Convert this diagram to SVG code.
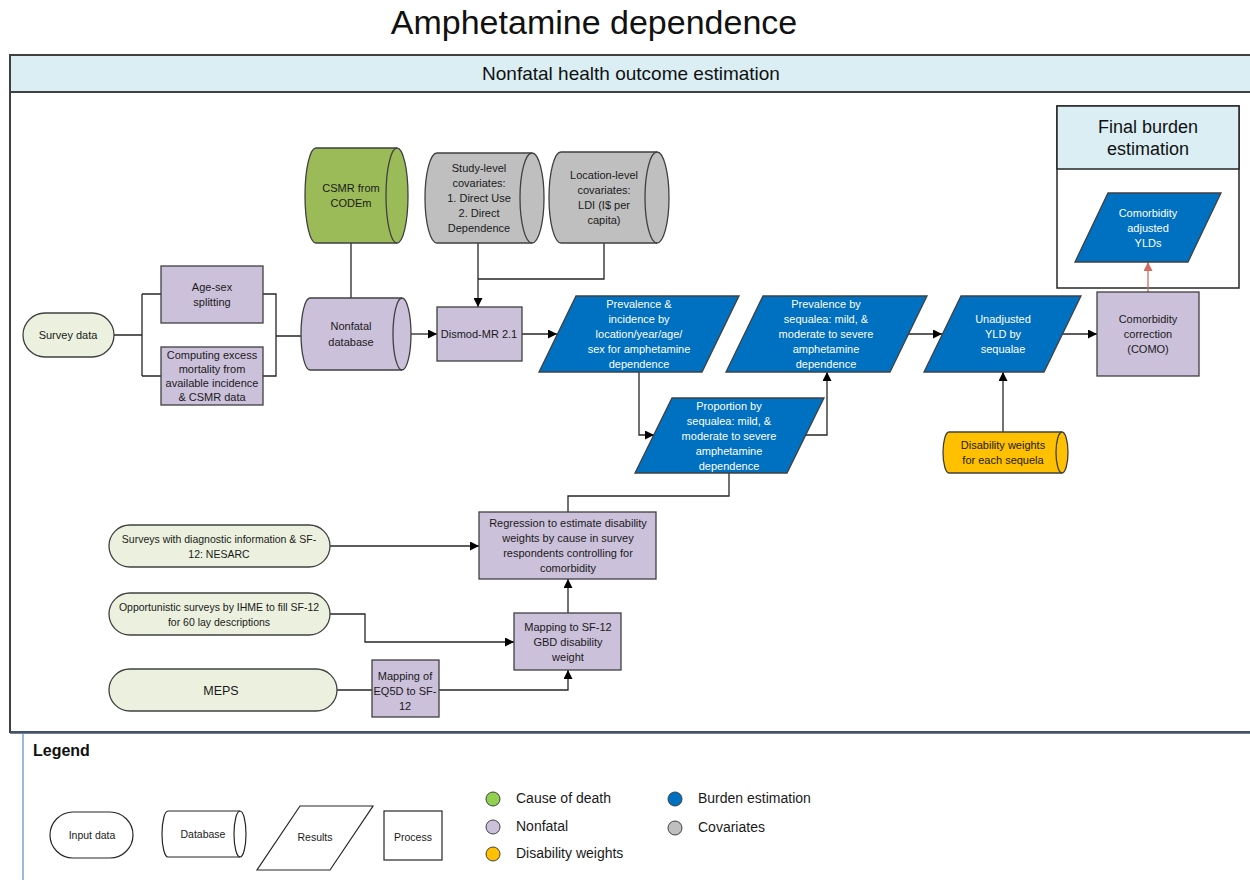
<svg xmlns="http://www.w3.org/2000/svg" width="1250" height="880" viewBox="0 0 1250 880">
  <defs>
    <marker id="arrow" viewBox="0 0 10 10" refX="10" refY="5" markerUnits="userSpaceOnUse" markerWidth="10" markerHeight="9" orient="auto">
      <path d="M0,0 L10,5 L0,10 z" fill="#000"/>
    </marker>
    <marker id="arrowRed" viewBox="0 0 10 10" refX="10" refY="5" markerUnits="userSpaceOnUse" markerWidth="10" markerHeight="9" orient="auto">
      <path d="M0,0 L10,5 L0,10 z" fill="#D46A62"/>
    </marker>
    <style>
      text { font-family: "Liberation Sans", Arial, sans-serif; }
      .t { font-size: 11px; fill: #1a1a1a; text-anchor: middle; }
      .tw { font-size: 11px; fill: #ffffff; text-anchor: middle; }
      .lg { font-size: 14px; fill: #1a1a1a; }
      .lgs { font-size: 10.5px; fill: #1a1a1a; text-anchor: middle; }
      .input { fill: #EBF1DE; stroke: #404040; stroke-width: 1.3; }
      .nonfatal { fill: #CCC1DA; stroke: #404040; stroke-width: 1.3; }
      .result { fill: #0070C0; stroke: #404040; stroke-width: 1.3; }
      .cov { fill: #BFBFBF; stroke: #404040; stroke-width: 1.3; }
      .cod { fill: #9BBB59; stroke: #404040; stroke-width: 1.3; }
      .dw { fill: #FFC000; stroke: #404040; stroke-width: 1.3; }
      .plain { fill: #ffffff; stroke: #262626; stroke-width: 1.2; }
      .inner { fill: none; stroke: #404040; stroke-width: 1.3; }
      .conn path { fill: none; stroke: #262626; stroke-width: 1.3; }
      .conn .arr { marker-end: url(#arrow); }
    </style>
  </defs>

  <rect width="1250" height="880" fill="#ffffff"/>

  <!-- title -->
  <text x="594" y="34" font-size="34" text-anchor="middle" fill="#111">Amphetamine dependence</text>

  <!-- swimlane frame -->
  <g id="lane">
    <rect x="10" y="55" width="1250" height="677" fill="#ffffff" stroke="#404040" stroke-width="2"/>
    <rect x="10" y="55" width="1250" height="37" fill="#DAEEF3" stroke="#404040" stroke-width="2"/>
    <text x="631" y="80" font-size="19" text-anchor="middle" fill="#111">Nonfatal health outcome estimation</text>
    <line x1="10" y1="732.5" x2="1250" y2="732.5" stroke="#44546A" stroke-width="2.5"/>
  </g>

  <!-- final burden box -->
  <g id="final-burden">
    <rect x="1057" y="106" width="182" height="182" fill="#ffffff" stroke="#262626" stroke-width="1.5"/>
    <rect x="1057" y="106" width="182" height="63" fill="#DAEEF3" stroke="#262626" stroke-width="1.5"/>
    <text x="1148" y="133" font-size="18" text-anchor="middle" fill="#111">Final burden</text>
    <text x="1148" y="155" font-size="18" text-anchor="middle" fill="#111">estimation</text>
  </g>

  <!-- connectors -->
  <g id="connectors" class="conn">
    <path d="M114,335 H142 M142,294 V376 M142,294 H161 M142,376 H161"/>
    <path d="M263,294 H276 V376 H263 M276,336 H301"/>
    <path d="M351,243 V298"/>
    <path class="arr" d="M411,334 H437"/>
    <path class="arr" d="M478,243 V307"/>
    <path d="M604,243 V279 H478"/>
    <path class="arr" d="M522,334 H557"/>
    <path class="arr" d="M639,372 V435 H654"/>
    <path class="arr" d="M805,435 H827 V372"/>
    <path class="arr" d="M908,334 H942"/>
    <path class="arr" d="M1062,334 H1097"/>
    <path d="M1148,292 V262" style="stroke:#D46A62" marker-end="url(#arrowRed)"/>
    <path class="arr" d="M1003,432 V372"/>
    <path d="M729,473 V496 H568 V512"/>
    <path class="arr" d="M330,546 H479"/>
    <path class="arr" d="M330,614 H365 V642 H514"/>
    <path class="arr" d="M568,613 V579"/>
    <path d="M337,690 H372"/>
    <path class="arr" d="M439,690 H568 V670"/>
  </g>

  <!-- input data -->
  <g id="survey-data">
    <rect class="input" x="23" y="313" width="91" height="44" rx="22"/>
    <text class="t" x="68" y="339">Survey data</text>
  </g>

  <g id="age-sex-splitting">
    <rect class="nonfatal" x="161" y="266" width="102" height="57"/>
    <text class="t"><tspan x="212" y="291">Age-sex</tspan><tspan x="212" y="306">splitting</tspan></text>
  </g>

  <g id="excess-mortality">
    <rect class="nonfatal" x="161" y="347" width="102" height="58"/>
    <text class="t"><tspan x="212" y="359">Computing excess</tspan><tspan x="212" y="373">mortality from</tspan><tspan x="212" y="387">available incidence</tspan><tspan x="212" y="401">&amp; CSMR data</tspan></text>
  </g>

  <g id="csmr-codem">
    <path class="cod" d="M316,148 L397,148 A11,47.5 0 0 1 397,243 L316,243 A11,47.5 0 0 1 316,148 Z"/>
    <path class="inner" d="M397,148 A11,47.5 0 0 0 397,243"/>
    <text class="t"><tspan x="351" y="192">CSMR from</tspan><tspan x="351" y="207">CODEm</tspan></text>
  </g>

  <g id="nonfatal-database">
    <path class="nonfatal" d="M310,298 L402,298 A9,36 0 0 1 402,370 L310,370 A9,36 0 0 1 310,298 Z"/>
    <path class="inner" d="M402,298 A9,36 0 0 0 402,370"/>
    <text class="t"><tspan x="351" y="330">Nonfatal</tspan><tspan x="351" y="346">database</tspan></text>
  </g>

  <g id="study-covariates">
    <path class="cov" d="M437,153 L532,153 A12,45 0 0 1 532,243 L437,243 A12,45 0 0 1 437,153 Z"/>
    <path class="inner" d="M532,153 A12,45 0 0 0 532,243"/>
    <text class="t"><tspan x="479" y="172">Study-level</tspan><tspan x="479" y="187">covariates:</tspan><tspan x="479" y="202">1. Direct Use</tspan><tspan x="479" y="217">2. Direct</tspan><tspan x="479" y="232">Dependence</tspan></text>
  </g>

  <g id="location-covariates">
    <path class="cov" d="M561,152 L657,152 A12,45.5 0 0 1 657,243 L561,243 A12,45.5 0 0 1 561,152 Z"/>
    <path class="inner" d="M657,152 A12,45.5 0 0 0 657,243"/>
    <text class="t"><tspan x="604" y="179">Location-level</tspan><tspan x="604" y="194">covariates:</tspan><tspan x="604" y="209">LDI (I$ per</tspan><tspan x="604" y="224">capita)</tspan></text>
  </g>

  <g id="dismod">
    <rect class="nonfatal" x="437" y="307" width="85" height="54"/>
    <text class="t" x="479" y="338">Dismod-MR 2.1</text>
  </g>

  <g id="prevalence-incidence">
    <polygon class="result" points="576,296 739,296 702,372 539,372"/>
    <text class="tw"><tspan x="639" y="308">Prevalence &amp;</tspan><tspan x="639" y="323">incidence by</tspan><tspan x="639" y="338">location/year/age/</tspan><tspan x="639" y="353">sex for amphetamine</tspan><tspan x="639" y="368">dependence</tspan></text>
  </g>

  <g id="proportion-sequelae">
    <polygon class="result" points="672,398 824,398 787,473 635,473"/>
    <text class="tw"><tspan x="729" y="410">Proportion by</tspan><tspan x="729" y="425">sequalea: mild, &amp;</tspan><tspan x="729" y="440">moderate to severe</tspan><tspan x="729" y="455">amphetamine</tspan><tspan x="729" y="470">dependence</tspan></text>
  </g>

  <g id="prevalence-sequelae">
    <polygon class="result" points="763,296 927,296 890,372 726,372"/>
    <text class="tw"><tspan x="826" y="308">Prevalence by</tspan><tspan x="826" y="323">sequalea: mild, &amp;</tspan><tspan x="826" y="338">moderate to severe</tspan><tspan x="826" y="353">amphetamine</tspan><tspan x="826" y="368">dependence</tspan></text>
  </g>

  <g id="unadjusted-yld">
    <polygon class="result" points="961,296 1081,296 1044,372 924,372"/>
    <text class="tw"><tspan x="1003" y="323">Unadjusted</tspan><tspan x="1003" y="338">YLD by</tspan><tspan x="1003" y="353">sequalae</tspan></text>
  </g>

  <g id="como">
    <rect class="nonfatal" x="1097" y="292" width="102" height="84"/>
    <text class="t"><tspan x="1148" y="323">Comorbidity</tspan><tspan x="1148" y="338">correction</tspan><tspan x="1148" y="353">(COMO)</tspan></text>
  </g>

  <g id="adjusted-ylds">
    <polygon class="result" points="1108,193 1221,193 1188,262 1075,262"/>
    <text class="tw"><tspan x="1148" y="217">Comorbidity</tspan><tspan x="1148" y="232">adjusted</tspan><tspan x="1148" y="247">YLDs</tspan></text>
  </g>

  <g id="disability-weights">
    <path class="dw" d="M949,432 L1062,432 A6,20.5 0 0 1 1062,473 L949,473 A6,20.5 0 0 1 949,432 Z"/>
    <path class="inner" d="M1062,432 A6,20.5 0 0 0 1062,473"/>
    <text class="t"><tspan x="1003" y="449">Disability weights</tspan><tspan x="1003" y="464">for each sequela</tspan></text>
  </g>

  <g id="regression">
    <rect class="nonfatal" x="479" y="512" width="177" height="67"/>
    <text class="t"><tspan x="568" y="527">Regression to estimate disability</tspan><tspan x="568" y="542">weights by cause in survey</tspan><tspan x="568" y="557">respondents controlling for</tspan><tspan x="568" y="572">comorbidity</tspan></text>
  </g>

  <g id="surveys-nesarc">
    <rect class="input" x="109" y="525" width="221" height="42" rx="21"/>
    <text class="t" style="font-size:10.5px"><tspan x="219" y="543">Surveys with diagnostic information &amp; SF-</tspan><tspan x="219" y="558">12: NESARC</tspan></text>
  </g>

  <g id="opportunistic-surveys">
    <rect class="input" x="109" y="593" width="221" height="42" rx="21"/>
    <text class="t" style="font-size:10.5px"><tspan x="219" y="611">Opportunistic surveys by IHME to fill SF-12</tspan><tspan x="219" y="626">for 60 lay descriptions</tspan></text>
  </g>

  <g id="mapping-sf12">
    <rect class="nonfatal" x="514" y="613" width="107" height="57"/>
    <text class="t"><tspan x="568" y="631">Mapping to SF-12</tspan><tspan x="568" y="646">GBD disability</tspan><tspan x="568" y="661">weight</tspan></text>
  </g>

  <g id="meps">
    <rect class="input" x="109" y="669" width="228" height="42" rx="21"/>
    <text class="t" x="221" y="695" style="font-size:12.5px">MEPS</text>
  </g>

  <g id="mapping-eq5d">
    <rect class="nonfatal" x="372" y="660" width="67" height="57"/>
    <text class="t"><tspan x="405" y="680">Mapping of</tspan><tspan x="405" y="695">EQ5D to SF-</tspan><tspan x="405" y="710">12</tspan></text>
  </g>

  <!-- legend -->
  <g id="legend">
    <line x1="23" y1="733" x2="23" y2="880" stroke="#5B8CC2" stroke-width="1.2"/>
    <text x="33" y="756" font-size="16" font-weight="bold" fill="#111">Legend</text>
    <rect class="plain" x="50" y="812" width="83" height="46" rx="23"/>
    <text class="lgs" x="92" y="839">Input data</text>
    <path class="plain" d="M168,811 L240,811 A6,23 0 0 1 240,857 L168,857 A6,23 0 0 1 168,811 Z"/>
    <path fill="none" stroke="#262626" stroke-width="1.2" d="M240,811 A6,23 0 0 0 240,857"/>
    <text class="lgs" x="203" y="838">Database</text>
    <polygon class="plain" points="300,806 373,806 330,870 257,870"/>
    <text class="lgs" x="315" y="841">Results</text>
    <rect class="plain" x="384" y="811" width="58" height="49"/>
    <text class="lgs" x="413" y="841">Process</text>

    <circle cx="493" cy="799" r="7" fill="#92D050" stroke="#404040" stroke-width="1"/>
    <text class="lg" x="516" y="803">Cause of death</text>
    <circle cx="493" cy="827" r="7" fill="#CCC1DA" stroke="#404040" stroke-width="1"/>
    <text class="lg" x="516" y="831">Nonfatal</text>
    <circle cx="493" cy="854" r="7" fill="#FFC000" stroke="#404040" stroke-width="1"/>
    <text class="lg" x="516" y="858">Disability weights</text>
    <circle cx="675" cy="799" r="7" fill="#0070C0" stroke="#404040" stroke-width="1"/>
    <text class="lg" x="698" y="803">Burden estimation</text>
    <circle cx="675" cy="828" r="7" fill="#BFBFBF" stroke="#404040" stroke-width="1"/>
    <text class="lg" x="698" y="832">Covariates</text>
  </g>
</svg>
